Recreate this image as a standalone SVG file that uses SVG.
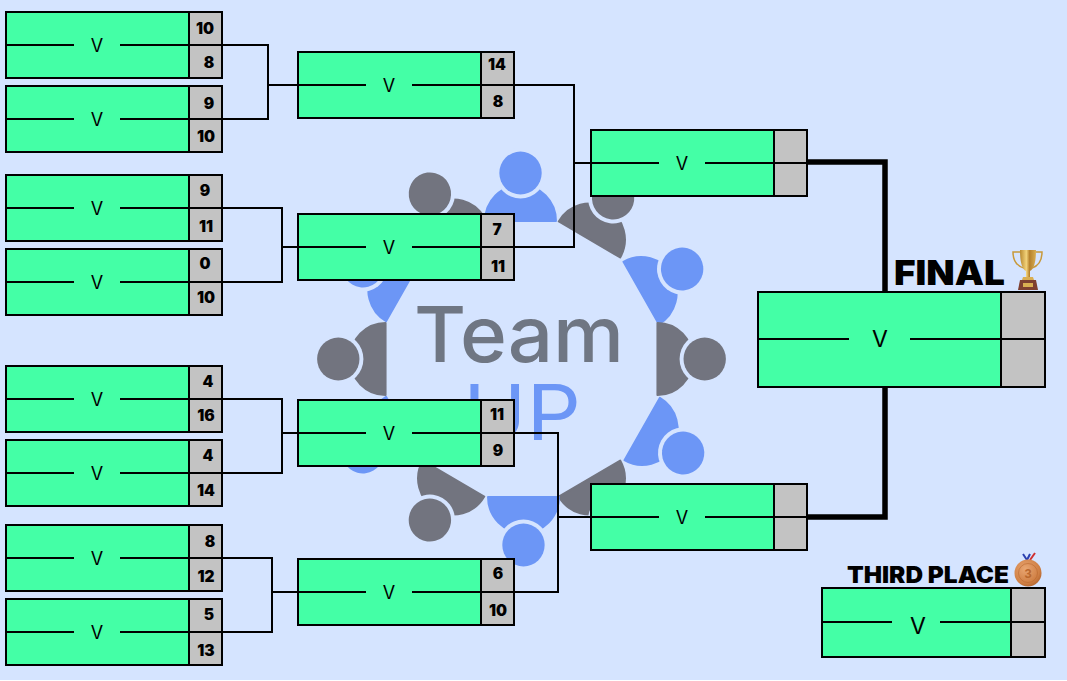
<svg xmlns="http://www.w3.org/2000/svg" width="1067" height="681" viewBox="0 0 1067 681">
<style>
.box{fill:#44FFA6;stroke:#000;stroke-width:2}
.cell{fill:#C3C3C3;stroke:#000;stroke-width:2}
.ln{stroke:#000;stroke-width:2;fill:none}
.thick{stroke:#000;stroke-width:5.5;fill:none}
.v{font-family:"Inter","Liberation Sans",sans-serif;font-size:18px;text-anchor:middle;fill:#000}
.vb{font-size:23px}
.s{font-family:"Inter","Liberation Sans",sans-serif;font-weight:900;font-size:15.5px;text-anchor:middle;fill:#000}
.h{font-family:"Inter","Liberation Sans",sans-serif;font-weight:900;fill:#000}
.pb{fill:#6C96F6;stroke:#6C96F6}
.pg{fill:#72747F;stroke:#72747F}
</style>
<defs>
<linearGradient id="gold" x1="0" x2="1" y1="0" y2="0"><stop offset="0" stop-color="#B98A30"/><stop offset=".4" stop-color="#F2D27A"/><stop offset=".6" stop-color="#B5812C"/><stop offset="1" stop-color="#D9AE52"/></linearGradient>
<radialGradient id="bronze" cx=".4" cy=".35" r=".75"><stop offset="0" stop-color="#E9A672"/><stop offset=".7" stop-color="#CF7F44"/><stop offset="1" stop-color="#A85C28"/></radialGradient>
<g id="person">
<path d="M-36 -138 A36 36 0 0 1 36 -138 Z" stroke-linejoin="round" stroke-width="2"/>
<circle cy="-186" r="25.500" style="fill:#D5E4FF;stroke:none"/>
<circle cy="-186" r="21.500" style="stroke:none"/>
</g>
<g id="m">
<rect class="box" x="0" y="0" width="183" height="66"/>
<rect class="cell" x="183" y="0" width="33" height="33"/>
<rect class="cell" x="183" y="33" width="33" height="33"/>
<path class="ln" d="M0 33H68M114 33H183"/>
<text class="v" x="91" y="40">V</text>
</g>
</defs>
<rect width="1067" height="681" fill="#fff"/>
<rect width="1067" height="680" fill="#D5E4FF"/>
<g id="logo">
<g transform="translate(521.500 359) scale(.985 1)">
<use href="#person" class="pb" transform="translate(-1 0)"/>
<use href="#person" transform="rotate(30)" class="pg"/>
<use href="#person" transform="translate(2 3) rotate(60)" class="pb"/>
<use href="#person" transform="rotate(90)" class="pg"/>
<use href="#person" transform="translate(3 1) rotate(120)" class="pb"/>
<use href="#person" transform="rotate(150)" class="pg"/>
<use href="#person" transform="translate(2 0) rotate(180)" class="pb"/>
<use href="#person" transform="rotate(210)" class="pg"/>
<use href="#person" transform="rotate(240)" class="pb"/>
<use href="#person" transform="rotate(270)" class="pg"/>
<use href="#person" transform="rotate(300)" class="pb"/>
<use href="#person" transform="translate(0 -4) rotate(330)" class="pg"/>
</g>
<text x="414" y="362" font-family="Inter,'Liberation Sans',sans-serif" font-weight="500" font-size="77" textLength="210" lengthAdjust="spacingAndGlyphs" fill="#6F7683">Team</text>
<text x="463" y="440" font-family="Inter,'Liberation Sans',sans-serif" font-weight="400" font-size="77" textLength="118" lengthAdjust="spacingAndGlyphs" fill="#6C96F6">UP</text>
</g>
<g id="connectors">
<path class="ln" d="M222 45H268V119H222M268 85H298"/>
<path class="ln" d="M222 208H282V282H222M282 247H298"/>
<path class="ln" d="M222 399H282V473H222M282 433H298"/>
<path class="ln" d="M222 558H272V632H222M272 592H298"/>
<path class="ln" d="M514 85H574V247H514M574 163H591"/>
<path class="ln" d="M514 433H558V592H514M558 517H591"/>
<path class="thick" d="M807 162H885V292M807 517H885V387"/>
</g>
<g id="m1"><use href="#m" x="6" y="12"/><text class="s" x="205" y="34">10</text><text class="s" x="209" y="68">8</text></g>
<g id="m2"><use href="#m" x="6" y="86"/><text class="s" x="209" y="109">9</text><text class="s" x="206" y="142">10</text></g>
<g id="m3"><use href="#m" x="6" y="175"/><text class="s" x="205" y="196">9</text><text class="s" x="206" y="232">11</text></g>
<g id="m4"><use href="#m" x="6" y="249"/><text class="s" x="205" y="269">0</text><text class="s" x="206" y="303">10</text></g>
<g id="m5"><use href="#m" x="6" y="366"/><text class="s" x="208" y="387">4</text><text class="s" x="206" y="421">16</text></g>
<g id="m6"><use href="#m" x="6" y="440"/><text class="s" x="208" y="461">4</text><text class="s" x="206" y="496">14</text></g>
<g id="m7"><use href="#m" x="6" y="525"/><text class="s" x="210" y="547">8</text><text class="s" x="206" y="582">12</text></g>
<g id="m8"><use href="#m" x="6" y="599"/><text class="s" x="209" y="620">5</text><text class="s" x="206" y="656">13</text></g>
<g id="m9"><use href="#m" x="298" y="52"/><text class="s" x="497" y="70">14</text><text class="s" x="498" y="107">8</text></g>
<g id="m10"><use href="#m" x="298" y="214"/><text class="s" x="497" y="235">7</text><text class="s" x="498" y="272">11</text></g>
<g id="m11"><use href="#m" x="298" y="400"/><text class="s" x="497" y="420">11</text><text class="s" x="498" y="456">9</text></g>
<g id="m12"><use href="#m" x="298" y="559"/><text class="s" x="498" y="579">6</text><text class="s" x="498" y="616">10</text></g>
<g id="m13"><use href="#m" x="591" y="130"/></g>
<g id="m14"><use href="#m" x="591" y="484"/></g>
<g id="final">
<rect class="box" x="758" y="292" width="243" height="95"/>
<rect class="cell" x="1001" y="292" width="44" height="47"/>
<rect class="cell" x="1001" y="339" width="44" height="48"/>
<path class="ln" d="M758 339H849M910 339H1001"/>
<text class="v vb" x="880" y="347">V</text>
<text class="h" x="894" y="285" font-size="34" textLength="111" lengthAdjust="spacingAndGlyphs">FINAL</text>
<g id="trophy">
<path d="M1021 252H1013C1013 261 1017 266 1024 268M1036 252H1042C1042 261 1038 266 1032 268" fill="none" stroke="#C8993A" stroke-width="1.500"/>
<path d="M1020 250H1036C1036 262 1034 269 1030 271V277H1026V271C1022 269 1020 262 1020 250Z" fill="url(#gold)"/>
<path d="M1023 277H1033L1034 280H1022Z" fill="#D9AE52"/>
<path d="M1020 280H1036L1038 290H1018Z" fill="#7E3F30"/>
<rect x="1023" y="283" width="10" height="4" fill="#D9AE52"/>
</g>
</g>
<g id="third">
<rect class="box" x="822" y="588" width="189" height="69"/>
<rect class="cell" x="1011" y="588" width="34" height="34"/>
<rect class="cell" x="1011" y="622" width="34" height="35"/>
<path class="ln" d="M822 622H892M940 622H1011"/>
<text class="v vb" x="918" y="634">V</text>
<text class="h" x="847" y="583" font-size="23" textLength="162" lengthAdjust="spacingAndGlyphs">THIRD PLACE</text>
<g id="medal">
<path d="M1023 554L1027 560L1030 554" fill="none" stroke="#2A3FB0" stroke-width="2"/>
<path d="M1035 553L1030 560" fill="none" stroke="#D03030" stroke-width="2"/>
<circle cx="1028" cy="573" r="13.500" fill="url(#bronze)"/>
<circle cx="1028" cy="573" r="9.500" fill="none" stroke="#B9682E" stroke-opacity=".6"/>
<text x="1028" y="578" font-family="'Liberation Sans',sans-serif" font-weight="700" font-size="13" text-anchor="middle" fill="#B9682E">3</text>
</g>
</g>
</svg>
